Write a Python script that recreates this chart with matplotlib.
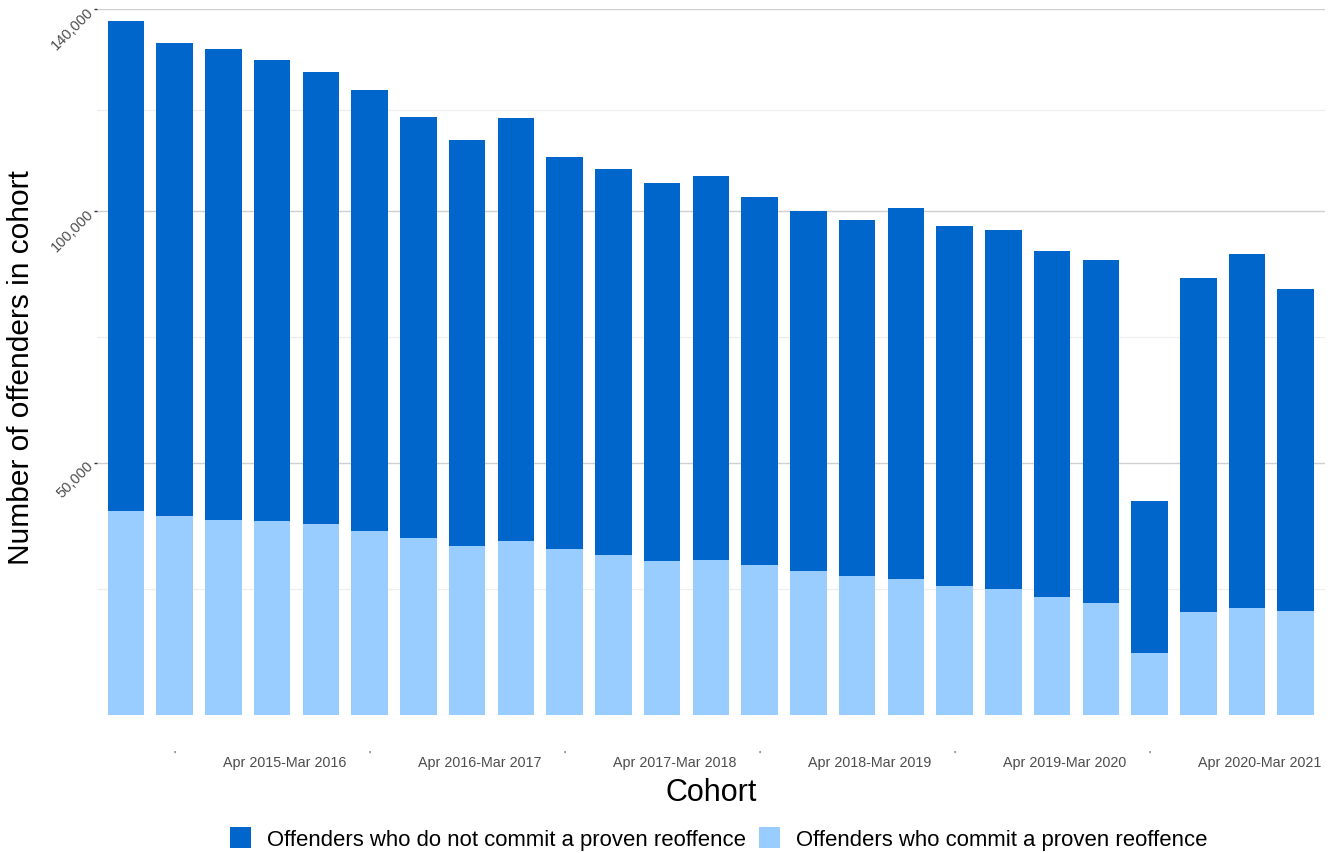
import matplotlib
matplotlib.use("Agg")
import matplotlib.pyplot as plt
import numpy as np

plt.rcParams['font.family'] = ['Liberation Sans', 'DejaVu Sans']

# Data (25 quarterly cohorts)
reoffenders = [40400, 39520, 38730, 38410, 37870, 36480, 35150, 33450, 34560, 32910,
               31780, 30470, 30680, 29670, 28540, 27490, 26890, 25500, 24910, 23320,
               22240, 12310, 20340, 21130, 20600]
non_reoffenders = [97240, 93830, 93420, 91560, 89720, 87530, 83560, 80630, 83890, 77790,
                   76540, 75070, 76250, 73110, 71500, 70620, 73690, 71500, 71300, 68780,
                   67930, 30130, 66250, 70370, 63810]
year_tick_bars = [1, 5, 9, 13, 17, 21]
year_labels = ["Apr 2015-Mar 2016", "Apr 2016-Mar 2017", "Apr 2017-Mar 2018",
               "Apr 2018-Mar 2019", "Apr 2019-Mar 2020", "Apr 2020-Mar 2021"]
y_major = [50000, 100000, 140000]
y_major_labels = ["50,000", "100,000", "140,000"]
y_minor = [0, 25000, 75000, 120000]
series_names = ["Offenders who do not commit a proven reoffence",
                "Offenders who commit a proven reoffence"]

dark = "#0066CC"
light = "#99CCFF"

fig = plt.figure(figsize=(13.33, 8.54), dpi=100)
ax = fig.add_axes([96.75 / 1333, 1 - 715.7 / 854, (1325 - 96.75) / 1333, (715.7 - 10.3) / 854])

x = np.arange(len(reoffenders))
b_light = ax.bar(x, reoffenders, width=0.75, color=light, zorder=3, label=series_names[1])
b_dark = ax.bar(x, non_reoffenders, width=0.75, bottom=reoffenders, color=dark, zorder=3,
                label=series_names[0])

ax.set_xlim(-0.6, len(x) - 0.4)
ax.set_ylim(0, 140000)

for s in ax.spines.values():
    s.set_visible(False)

ax.set_yticks(y_major)
ax.set_yticklabels(y_major_labels, rotation=45, ha='right', va='center',
                   rotation_mode='anchor', color='#4d4d4d', fontsize=10.5)
ax.set_yticks(y_minor, minor=True)
ax.tick_params(axis='y', which='major', length=2, width=1, color='#333333', pad=2)
ax.tick_params(axis='y', which='minor', length=0)
ax.grid(axis='y', which='major', color='#d0d0d0', linewidth=1.0, zorder=0)
ax.grid(axis='y', which='minor', color='#eeeeee', linewidth=0.9, zorder=0)
ax.grid(axis='x', visible=False)

ax.set_xticks(year_tick_bars)
ax.set_xticklabels(["'"] * len(year_tick_bars), color='#333333', fontsize=8)
ax.tick_params(axis='x', length=0, pad=25)

for tb, lab in zip(year_tick_bars, year_labels):
    ax.annotate(lab, xy=(tb, 0), xycoords=('data', 'axes fraction'),
                xytext=(79, -34), textcoords='offset points',
                ha='center', va='center', color='#4d4d4d', fontsize=10.3)

ax.set_ylabel("Number of offenders in cohort", fontsize=21.5, color='black')
ax.yaxis.set_label_coords(-0.0505, 0.493)
ax.set_xlabel("Cohort", fontsize=22, color='black')
ax.xaxis.set_label_coords(0.5, -0.089)

leg = ax.legend(handles=[b_dark, b_light], labels=series_names, ncol=2, loc='center',
                bbox_to_anchor=(0.5065, -0.176), frameon=False, fontsize=15.9,
                handlelength=0.95, handleheight=1.05, handletextpad=0.72, columnspacing=0.6)

fig.savefig("out.png", dpi=100)
